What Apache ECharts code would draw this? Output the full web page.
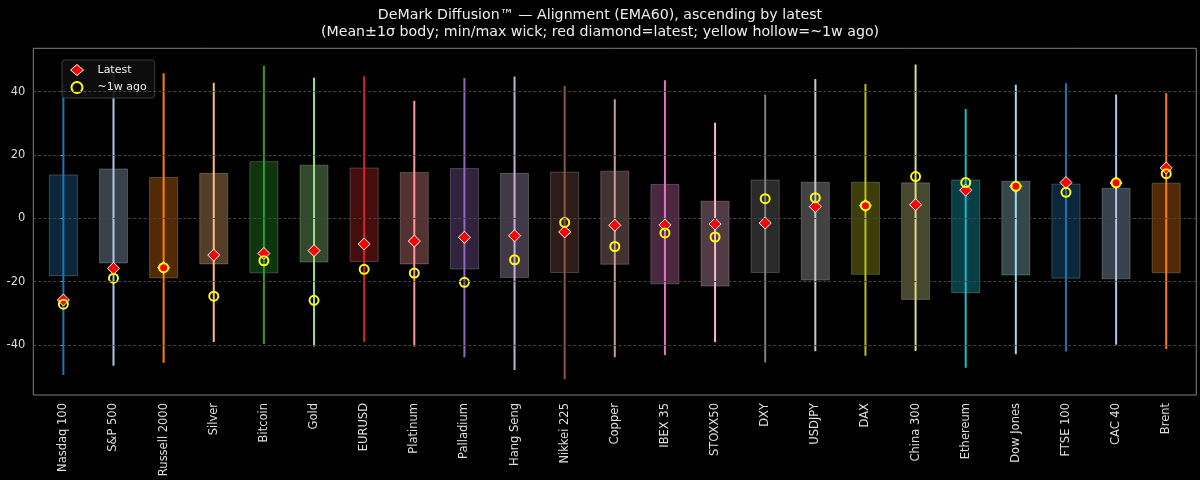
<!DOCTYPE html>
<html>
<head>
<meta charset="utf-8">
<script src="https://cdn.jsdelivr.net/npm/echarts@6/dist/echarts.min.js"></script>
<style>html,body{margin:0;padding:0;background:#000;}#c{width:1200px;height:480px;}</style>
</head>
<body>
<div id="c"></div>
<script>
const categories = ['Nasdaq 100','S&P 500','Russell 2000','Silver','Bitcoin','Gold','EURUSD','Platinum','Palladium','Hang Seng','Nikkei 225','Copper','IBEX 35','STOXX50','DXY','USDJPY','DAX','China 300','Ethereum','Dow Jones','FTSE 100','CAC 40','Brent'];
const bodyHigh = [13.7, 15.6, 12.9, 14.2, 17.9, 16.8, 15.9, 14.5, 15.7, 14.2, 14.6, 14.9, 10.7, 5.4, 12.1, 11.4, 11.4, 11.2, 12.1, 11.7, 10.8, 9.5, 11.1];
const bodyLow = [-18.1, -14.1, -18.8, -14.4, -17.2, -13.8, -13.6, -14.4, -16.0, -18.7, -17.1, -14.5, -20.7, -21.4, -17.1, -19.5, -17.7, -25.6, -23.5, -17.9, -18.9, -19.1, -17.2];
const wickHigh = [42.8, 46.5, 45.8, 42.8, 48.2, 44.4, 44.9, 37.1, 44.3, 44.8, 41.8, 37.6, 43.6, 30.2, 39.1, 44.0, 42.4, 48.6, 34.5, 42.2, 42.7, 39.1, 39.5];
const wickLow = [-49.5, -46.6, -45.6, -39.1, -39.7, -40.5, -39.1, -40.5, -43.9, -47.9, -50.8, -43.9, -43.2, -39.1, -45.5, -42.0, -43.4, -41.9, -47.2, -42.9, -42.1, -39.9, -41.3];
const latest = [-25.8, -15.8, -15.6, -11.6, -11.1, -10.2, -8.1, -7.2, -6.0, -5.5, -4.3, -2.2, -2.1, -1.8, -1.5, 3.7, 4.0, 4.3, 8.9, 10.1, 11.3, 11.2, 15.9];
const weekAgo = [-27.1, -18.9, -15.6, -24.6, -13.4, -25.9, -16.1, -17.3, -20.2, -13.1, -1.3, -8.9, -4.6, -5.9, 6.2, 6.5, 4.0, 13.2, 11.3, 10.1, 8.2, 11.2, 14.1];
const yTicks = [-40, -20, 0, 20, 40];

const palette = ['#1f77b4','#aec7e8','#ff7f0e','#ffbb78','#2ca02c','#98df8a','#d62728','#ff9896','#9467bd','#c5b0d5','#8c564b','#c49c94','#e377c2','#f7b6d2','#7f7f7f','#c7c7c7','#bcbd22','#dbdb8d','#17becf','#9edae5'];
function rgba(hex, a) {
  const n = parseInt(hex.slice(1), 16);
  return 'rgba(' + ((n >> 16) & 255) + ',' + ((n >> 8) & 255) + ',' + (n & 255) + ',' + a + ')';
}
const FONT = 'DejaVu Sans';

const chart = echarts.init(document.getElementById('c'));
chart.setOption({
  backgroundColor: '#000',
  animation: false,
  title: {
    text: 'DeMark Diffusion™ — Alignment (EMA60), ascending by latest\n(Mean±1σ body; min/max wick; red diamond=latest; yellow hollow=~1w ago)',
    left: 'center', top: 2,
    textStyle: { color: '#eeeeee', fontSize: 14.2, lineHeight: 17, fontWeight: 'normal', fontFamily: FONT }
  },
  legend: {
    orient: 'vertical', left: 62, top: 60,
    padding: [4, 8, 4, 8], itemGap: 5, itemWidth: 13, itemHeight: 11,
    backgroundColor: 'rgba(14,14,14,0.9)', borderColor: '#3a3a3a', borderWidth: 1, borderRadius: 3,
    textStyle: { color: '#eeeeee', fontSize: 11, fontFamily: FONT, padding: [0, 0, 0, 9] },
    data: [
      { name: 'Latest', icon: 'diamond', itemStyle: { color: '#ff0000', borderColor: '#ffffff', borderWidth: 1 } },
      { name: '~1w ago', icon: 'circle', itemStyle: { color: 'rgba(0,0,0,0)', borderColor: '#ffff00', borderWidth: 2 } }
    ]
  },
  grid: { left: 33.3, right: 3.7, top: 48.3, bottom: 85, show: true, borderColor: '#808080', borderWidth: 1, backgroundColor: 'rgba(0,0,0,0)' },
  xAxis: {
    type: 'value', min: -0.6, max: 22.6,
    axisLine: { show: false }, axisTick: { show: false }, splitLine: { show: false },
    axisLabel: {
      customValues: categories.map((_, i) => i),
      formatter: v => categories[Math.round(v)] || '',
      rotate: 90, fontSize: 11.5, color: '#dddddd', margin: 8, fontFamily: FONT
    }
  },
  yAxis: {
    type: 'value', min: -55.8, max: 53.7,
    axisLine: { show: false },
    axisTick: { show: true, customValues: yTicks, length: 4, lineStyle: { color: '#cccccc' } },
    axisLabel: { customValues: yTicks, color: '#dddddd', fontSize: 11.5, margin: 8, fontFamily: FONT },
    splitLine: { show: false }
  },
  series: [
    {
      type: 'line', name: 'grid', data: [], z: 1, silent: true,
      markLine: {
        silent: true, symbol: 'none', label: { show: false },
        lineStyle: { color: '#444444', width: 1, type: [3, 2] },
        data: yTicks.map(v => ({ yAxis: v }))
      }
    },
    {
      type: 'custom', name: 'body', z: 2,
      data: categories.map((_, i) => [i, bodyHigh[i], bodyLow[i], wickHigh[i], wickLow[i]]),
      encode: { x: 0, y: [1, 2, 3, 4] },
      renderItem: function (params, api) {
        const i = api.value(0);
        const top = api.coord([i, api.value(1)]);
        const bot = api.coord([i, api.value(2)]);
        const wt = api.coord([i, api.value(3)]);
        const wb = api.coord([i, api.value(4)]);
        const w = api.size([1, 0])[0] * 0.56;
        const c = palette[i % palette.length];
        return {
          type: 'group',
          children: [
            { type: 'rect', shape: { x: top[0] - w / 2, y: top[1], width: w, height: bot[1] - top[1] },
              style: { fill: rgba(c, 0.33), stroke: 'rgba(255,255,255,0.22)', lineWidth: 1 } },
            { type: 'line', shape: { x1: wt[0], y1: wt[1], x2: wb[0], y2: wb[1] },
              style: { stroke: c, lineWidth: 2 } }
          ]
        };
      }
    },
    {
      type: 'scatter', name: 'Latest', z: 3, symbol: 'diamond', symbolSize: 12,
      itemStyle: { color: '#ff0000', borderColor: '#ffffff', borderWidth: 1, opacity: 1 },
      data: latest.map((v, i) => [i, v])
    },
    {
      type: 'scatter', name: '~1w ago', z: 4, symbol: 'circle', symbolSize: 9,
      itemStyle: { color: 'rgba(0,0,0,0)', borderColor: '#ffff00', borderWidth: 2, opacity: 1 },
      data: weekAgo.map((v, i) => [i, v])
    }
  ]
});
</script>
</body>
</html>
